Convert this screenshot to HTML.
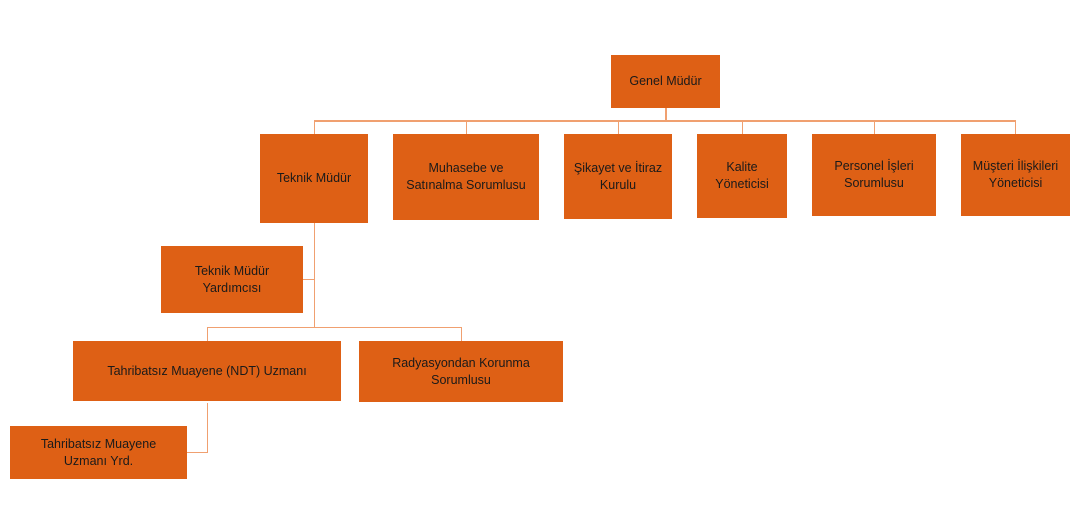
<!DOCTYPE html>
<html><head><style>
body{margin:0;width:1091px;height:509px;background:#fff;position:relative;overflow:hidden;font-family:"Liberation Sans",sans-serif}
.b{position:absolute;background:#de6015;color:#1a1a1a;font-size:12.5px;display:flex;align-items:center;justify-content:center;text-align:center;line-height:17px}
.l{position:absolute;background:#f0a070}
</style></head><body>
<div class="l" style="left:665px;top:108px;width:2px;height:13px"></div>
<div class="l" style="left:314px;top:120px;width:702px;height:2px"></div>
<div class="l" style="left:314px;top:120px;width:1px;height:14px"></div>
<div class="l" style="left:466px;top:120px;width:1px;height:14px"></div>
<div class="l" style="left:618px;top:120px;width:1px;height:14px"></div>
<div class="l" style="left:742px;top:120px;width:1px;height:14px"></div>
<div class="l" style="left:874px;top:120px;width:1px;height:14px"></div>
<div class="l" style="left:1015px;top:120px;width:1px;height:14px"></div>
<div class="l" style="left:314px;top:223px;width:1px;height:105px"></div>
<div class="l" style="left:303px;top:279px;width:12px;height:1px"></div>
<div class="l" style="left:207px;top:327px;width:255px;height:1px"></div>
<div class="l" style="left:207px;top:327px;width:1px;height:14px"></div>
<div class="l" style="left:461px;top:327px;width:1px;height:14px"></div>
<div class="l" style="left:207px;top:403px;width:1px;height:50px"></div>
<div class="l" style="left:187px;top:452px;width:21px;height:1px"></div>
<div class="b" style="left:611px;top:55px;width:109px;height:53px">Genel Müdür</div>
<div class="b" style="left:260px;top:134px;width:108px;height:89px">Teknik Müdür</div>
<div class="b" style="left:393px;top:134px;width:146px;height:86px">Muhasebe ve<br>Satınalma Sorumlusu</div>
<div class="b" style="left:564px;top:134px;width:108px;height:85px">Şikayet ve İtiraz<br>Kurulu</div>
<div class="b" style="left:697px;top:134px;width:90px;height:84px">Kalite<br>Yöneticisi</div>
<div class="b" style="left:812px;top:134px;width:124px;height:82px">Personel İşleri<br>Sorumlusu</div>
<div class="b" style="left:961px;top:134px;width:109px;height:82px">Müşteri İlişkileri<br>Yöneticisi</div>
<div class="b" style="left:161px;top:246px;width:142px;height:67px">Teknik Müdür<br>Yardımcısı</div>
<div class="b" style="left:73px;top:341px;width:268px;height:60px">Tahribatsız Muayene (NDT) Uzmanı</div>
<div class="b" style="left:359px;top:341px;width:204px;height:61px">Radyasyondan Korunma<br>Sorumlusu</div>
<div class="b" style="left:10px;top:426px;width:177px;height:53px">Tahribatsız Muayene<br>Uzmanı Yrd.</div>
</body></html>
